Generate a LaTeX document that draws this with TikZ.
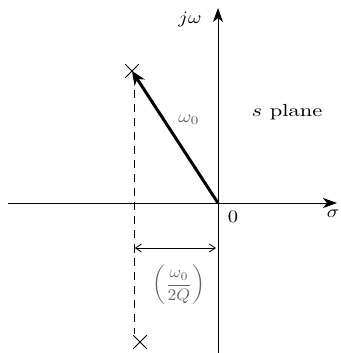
\documentclass[tikz,border=0pt]{standalone}
\usepackage{graphicx}
\usetikzlibrary{arrows.meta}
\newcommand{\bigtxt}[1]{\scalebox{2.05}[1.75]{#1}}
\newcommand{\smalltxt}[1]{\scalebox{2}[1.7]{#1}}
\begin{document}
\begin{tikzpicture}[x=1pt,y=-1pt,
  axis/.style={line width=0.9pt, -{Stealth[length=14pt,width=10pt,inset=4pt]}},
  pole/.style={draw=none, inner sep=0pt, minimum size=14pt, path picture={
     \draw[line width=0.9pt] (path picture bounding box.south west) -- (path picture bounding box.north east)
       (path picture bounding box.north west) -- (path picture bounding box.south east);}},
  lbl/.style={inner sep=0pt},
  small/.style={inner sep=0pt, text=black!60}
]
\useasboundingbox (0,0) rectangle (340,353);
\coordinate (O) at (218,203);
\coordinate (xl) at (8,203);
\coordinate (xr) at (337,203);
\coordinate (yb) at (218,353);
\coordinate (yt) at (218,8);
\draw[axis] (xl) -- (xr);
\draw[axis] (yb) -- (yt);
\node[pole] (P) at (132,71) {};
\node[pole] (Q) at (140,342) {};
\coordinate (dt) at (134,90);
\coordinate (db) at (134,334);
\draw[line width=0.9pt, dash pattern=on 8pt off 6pt] (dt) -- (db);
\draw[line width=3pt, -{Stealth[length=14pt,width=12pt]}] (O) -- (P.center);
\coordinate (al) at (134,248);
\coordinate (ar) at (216,248);
\draw[line width=0.8pt, {Bar[width=9pt].Straight Barb[length=6pt,width=8pt]}-{Straight Barb[length=6pt,width=8pt]}] (al) -- (ar);
\node[lbl] (jw) at (190,19) {\bigtxt{$j\omega$}};
\node[lbl] (sp) at (287,112) {\scalebox{2.25}[1.75]{$s$ plane}};
\node[small] (w0) at (189,120) {\smalltxt{$\omega_0$}};
\node[lbl] (zero) at (233,217) {\bigtxt{0}};
\node[lbl, anchor=east] (sig) at (339.5,214) {\bigtxt{$\sigma$}};
\node[inner sep=0pt, text=black!60] (fr) at (179,285) {\scalebox{1.75}[1.65]{$\left(\displaystyle\frac{\omega_0}{2Q}\right)$}};
\end{tikzpicture}
\end{document}
